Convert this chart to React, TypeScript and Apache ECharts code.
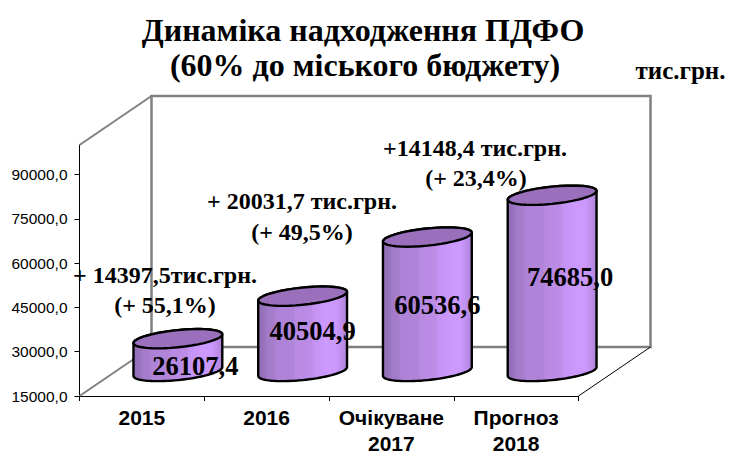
import React, { useEffect, useRef } from "react";
import * as echarts from "echarts";

const categories = ["2015", "2016", "Очікуване\n2017", "Прогноз\n2018"];
const values = [26107.4, 40504.9, 60536.6, 74685.0];
const valueLabels = ["26107,4", "40504,9", "60536,6", "74685,0"];
const titleLines = ["Динаміка надходження ПДФО", "(60% до міського бюджету)"];
const unitText = "тис.грн.";
const notes = [
  ["+ 14397,5тис.грн.", "(+ 55,1%)"],
  ["+ 20031,7 тис.грн.", "(+ 49,5%)"],
  ["+14148,4 тис.грн.", "(+ 23,4%)"],
];
const notePos = [[165, 275, 165, 305], [302, 201, 302, 232], [475, 148, 476, 178]];
const labelShift = [[17.5, 0], [10, 0], [10, 0], [18, 0]];
const labelY = [366, 331, 305, 277];

const L = 79.5, R = 578.5, B = 396, T = 145, DX = 72, DY = -49;
const SERIF = "'Liberation Serif','Times New Roman',serif";
const SANS = "'Liberation Sans',Arial,sans-serif";

const bodyFill = new echarts.graphic.LinearGradient(0, 0, 1, 0, [
  { offset: 0, color: "#8f6db3" }, { offset: 0.08, color: "#9a74c0" },
  { offset: 0.1, color: "#a27ac8" }, { offset: 0.18, color: "#a67dcc" },
  { offset: 0.2, color: "#ae82d6" }, { offset: 0.4, color: "#b084d8" },
  { offset: 0.42, color: "#b88ae2" }, { offset: 0.6, color: "#bc8ce6" },
  { offset: 0.62, color: "#c493f2" }, { offset: 0.78, color: "#cc99ff" },
  { offset: 0.88, color: "#cb98fd" }, { offset: 0.94, color: "#bd8eea" },
  { offset: 1, color: "#ae83d8" },
]);

function ellipsePts(cx: number, cy: number, a: number, b: number, k: number, from: number, to: number) {
  const pts: number[][] = [];
  const steps = 40;
  for (let i = 0; i <= steps; i++) {
    const t = from + ((to - from) * i) / steps;
    pts.push([cx + a * Math.cos(t), cy + b * Math.sin(t) - k * Math.cos(t)]);
  }
  return pts;
}

export default function App() {
  const ref = useRef<HTMLDivElement>(null);
  useEffect(() => {
    const chart = echarts.init(ref.current!, undefined, { renderer: "svg" });
    const gray = "#808080";
    const noteTexts: any[] = [];
    notes.forEach((n, i) => {
      const p = notePos[i];
      noteTexts.push(
        { type: "text", z: 20, x: p[0], y: p[1], style: { text: n[0], font: `bold 24px ${SERIF}`, fill: "#000", textAlign: "center", textVerticalAlign: "middle" } },
        { type: "text", z: 20, x: p[2], y: p[3], style: { text: n[1], font: `bold 24px ${SERIF}`, fill: "#000", textAlign: "center", textVerticalAlign: "middle" } },
      );
    });
    chart.setOption({
      animation: false,
      backgroundColor: "#fff",
      title: [
        { text: titleLines[0], left: 358, top: 9, textAlign: "center", textStyle: { fontFamily: SERIF, fontWeight: "bold", fontSize: 32, color: "#000" } },
        { text: titleLines[1], left: 360, top: 44, textAlign: "center", textStyle: { fontFamily: SERIF, fontWeight: "bold", fontSize: 32, color: "#000" } },
        { text: unitText, left: 675.5, top: 53, textAlign: "center", textStyle: { fontFamily: SERIF, fontWeight: "bold", fontSize: 25, color: "#000" } },
      ],
      grid: { left: L, top: T, width: R - L, height: B - T, containLabel: false, outerBoundsMode: "none" },
      xAxis: {
        type: "category",
        data: categories,
        axisLine: { lineStyle: { color: "#000", width: 1 } },
        axisTick: { show: true, length: 5, lineStyle: { color: "#000" } },
        axisLabel: { interval: 0, fontFamily: SANS, fontWeight: "bold", fontSize: 21, color: "#000", margin: 8, lineHeight: 26 },
      },
      yAxis: {
        type: "value",
        min: 15000,
        max: 100000,
        interval: 15000,
        axisLine: { show: true, lineStyle: { color: "#000", width: 1 } },
        axisTick: { show: true, length: 5, lineStyle: { color: "#000" } },
        splitLine: { show: false },
        axisLabel: {
          fontFamily: SANS, fontSize: 15.5, color: "#000", margin: 12, showMaxLabel: false,
          formatter: (v: number) => v.toFixed(1).replace(".", ","),
        },
      },
      graphic: [
        { type: "rect", z: 1, shape: { x: L + DX, y: T + DY, width: R - L, height: B - T }, style: { fill: "#fff", stroke: gray, lineWidth: 2.5 } },
        { type: "line", z: 1, shape: { x1: L, y1: T, x2: L + DX, y2: T + DY }, style: { stroke: gray, lineWidth: 2 } },
        { type: "line", z: 1, shape: { x1: L, y1: B, x2: L + DX, y2: B + DY }, style: { stroke: gray, lineWidth: 2 } },
        { type: "line", z: 1, shape: { x1: R, y1: B, x2: R + DX, y2: B + DY }, style: { stroke: "#000", lineWidth: 1 } },
        ...noteTexts,
      ],
      series: [
        {
          type: "custom",
          z: 5,
          data: values.map((v, i) => [i, v]),
          encode: { x: 0, y: 1 },
          renderItem: (_p: any, api: any) => {
            const i = api.value(0);
            const top = api.coord([i, api.value(1)]);
            const base = api.coord([i, 15000]);
            const band = api.size([1, 0])[0];
            const a = band * 0.356, b = 8.6, k = 4.4;
            const cx = top[0] + DX / 2, yT = top[1] + DY / 2, yB = base[1] + DY / 2;
            const bottomArc = ellipsePts(cx, yB, a, b, k, 0, Math.PI);
            const topArc = ellipsePts(cx, yT, a, b, k, Math.PI, 2 * Math.PI);
            const lineStyle = { stroke: "#000", lineWidth: 2.4, lineJoin: "round" };
            return {
              type: "group",
              children: [
                { type: "polygon", shape: { points: [...bottomArc, ...topArc] }, style: { fill: bodyFill, ...lineStyle } },
                { type: "polygon", shape: { points: ellipsePts(cx, yT, a, b, k, 0, 2 * Math.PI) }, style: { fill: "#9a70bc", ...lineStyle } },
                {
                  type: "text", z2: 30,
                  style: {
                    x: cx + labelShift[i][0], y: labelY[i], text: valueLabels[i],
                    font: `bold 26.5px ${SERIF}`, fill: "#000", textAlign: "center", textVerticalAlign: "middle",
                  },
                },
              ],
            };
          },
        },
      ],
    });
    return () => chart.dispose();
  }, []);
  return <div ref={ref} style={{ width: 734, height: 457, position: "absolute", left: 0, top: 0 }} />;
}
